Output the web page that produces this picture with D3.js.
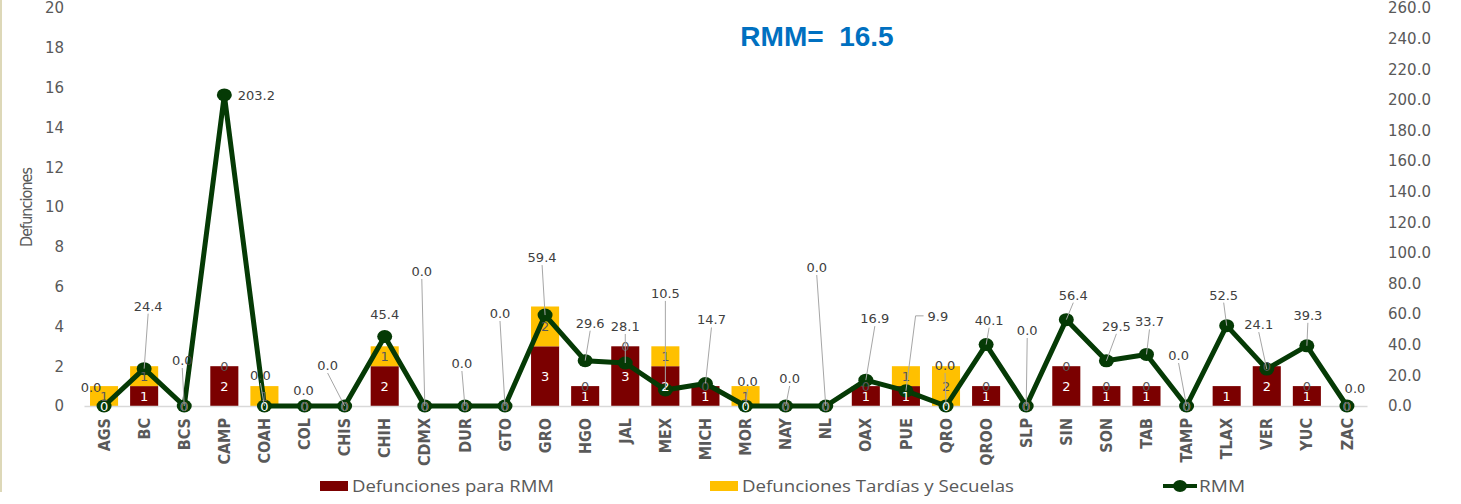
<!DOCTYPE html>
<html>
<head>
<meta charset="utf-8">
<script src="https://cdn.jsdelivr.net/npm/d3@7"></script>
<style>
  body { margin: 0; background: #fff; }
  svg { display: block; }
  text { font-family: "DejaVu Sans", Verdana, sans-serif; }
  .narrow { font-family: "Liberation Sans Narrow", "DejaVu Sans Condensed", "Liberation Sans", sans-serif; }
  .leyenda { font-family: "Open Sans", "Noto Sans", sans-serif; }
</style>
</head>
<body>
<div id="chart"></div>
<script>
var estados = ["AGS", "BC", "BCS", "CAMP", "COAH", "COL", "CHIS", "CHIH", "CDMX", "DUR", "GTO",
  "GRO", "HGO", "JAL", "MEX", "MICH", "MOR", "NAY", "NL", "OAX", "PUE", "QRO", "QROO", "SLP",
  "SIN", "SON", "TAB", "TAMP", "TLAX", "VER", "YUC", "ZAC"];

var defRMM = [0, 1, 0, 2, 0, 0, 0, 2, 0, 0, 0, 3, 1, 3, 2, 1, 0, 0, 0, 1, 1, 0, 1, 0, 2, 1, 1, 0, 1, 2, 1, 0];

var defTardias = [1, 1, 0, 0, 1, 0, 0, 1, 0, 0, 0, 2, 0, 0, 1, 0, 1, 0, 0, 0, 1, 2, 0, 0, 0, 0, 0, 0, null, 0, 0, 0];

var rmm = [0.0, 24.4, 0.0, 203.2, 0.0, 0.0, 0.0, 45.4, 0.0, 0.0, 0.0, 59.4, 29.6, 28.1, 10.5, 14.7,
  0.0, 0.0, 0.0, 16.9, 9.9, 0.0, 40.1, 0.0, 56.4, 29.5, 33.7, 0.0, 52.5, 24.1, 39.3, 0.0];

var rmmNacional = 16.5;

var leftTicks = d3.range(0, 21, 2);
var rightTicks = d3.range(0, 261, 20);

// label offsets for the RMM labels (dx, dy from the point), as placed in the original
var rmmLabelOffset = [[-13, -14], [4, -58], [-2, -41], [32, 5], [-4, -26], [-1, -11], [-17, -36], [0, -18],
  [-3, -130], [-3, -38], [-5, -88], [-3, -53], [5, -33], [0, -32], [0, -92], [6, -59], [2, -20], [4, -23],
  [-9, -134], [9, -57], [32, -70], [-1, -36], [3, -20], [1, -71], [7, -20], [10, -30], [3, -28], [-8, -46],
  [-3, -26], [-8, -40], [1, -26], [8, -13]];

var width = 1461, height = 504;
var colRojo = "#7b0000", colAmarillo = "#ffc000", colVerde = "#053a05", colTexto = "#595959";

var svg = d3.select("#chart").append("svg")
  .attr("width", width)
  .attr("height", height);

// left frame line
svg.append("line")
  .attr("x1", 1).attr("x2", 1).attr("y1", 0).attr("y2", 492)
  .attr("stroke", "#ddd8b8").attr("stroke-width", 2);

var x = d3.scaleBand().domain(estados).range([84, 1367]).paddingInner(0.3).paddingOuter(0.15);
var y = d3.scaleLinear().domain([0, 20]).range([406, 8]);
var y2 = d3.scaleLinear().domain([0, 260]).range([406, 8]);

var rows = estados.map(function(e, i) {
  return {estado: e, rmm: defRMM[i], tard: defTardias[i] == null ? 0 : defTardias[i], tardRaw: defTardias[i]};
});
var series = d3.stack().keys(["rmm", "tard"])(rows);

// axes
var gl = svg.append("g").attr("transform", "translate(72,0)")
  .call(d3.axisLeft(y).tickValues(leftTicks).tickSize(0).tickPadding(8));
gl.select(".domain").remove();
gl.selectAll("text").attr("fill", colTexto).style("font-size", "15px").style("font-family", "DejaVu Sans, Verdana, sans-serif");

var gr = svg.append("g").attr("transform", "translate(1378,0)")
  .call(d3.axisRight(y2).tickValues(rightTicks).tickSize(0).tickPadding(10).tickFormat(d3.format(".1f")));
gr.select(".domain").remove();
gr.selectAll("text").attr("fill", colTexto).style("font-size", "15px").style("font-family", "DejaVu Sans, Verdana, sans-serif");

svg.append("text")
  .attr("class", "narrow")
  .attr("transform", "translate(32,207) rotate(-90)")
  .attr("text-anchor", "middle")
  .attr("fill", colTexto)
  .style("font-size", "16px")
  .attr("textLength", 80)
  .text("Defunciones");

// bars
var colores = [colRojo, colAmarillo];
svg.append("g").selectAll("g")
  .data(series)
  .enter().append("g")
  .attr("fill", function(d, i) { return colores[i]; })
  .selectAll("rect")
  .data(function(d) { return d; })
  .enter().append("rect")
  .attr("x", function(d) { return x(d.data.estado); })
  .attr("width", x.bandwidth())
  .attr("y", function(d) { return y(d[1]); })
  .attr("height", function(d) { return y(d[0]) - y(d[1]); });

// x axis
var gx = svg.append("g").attr("transform", "translate(0,406)")
  .call(d3.axisBottom(x).tickSize(0).tickPadding(0));
gx.select(".domain").attr("stroke", "#d9d9d9").attr("stroke-width", 1.5);
gx.selectAll("text")
  .attr("class", "narrow")
  .attr("fill", colTexto)
  .style("font-size", "16px")
  .style("font-weight", "bold")
  .attr("transform", "rotate(-90)")
  .attr("text-anchor", "end")
  .attr("dx", "-12px")
  .attr("dy", "0.35em")
  .attr("x", null)
  .attr("y", 0);

// RMM line
var cx = function(i) { return x(estados[i]) + x.bandwidth() / 2; };
var linea = d3.line()
  .x(function(d, i) { return cx(i); })
  .y(function(d) { return y2(d); });

svg.append("path")
  .datum(rmm)
  .attr("d", linea)
  .attr("fill", "none")
  .attr("stroke", colVerde)
  .attr("stroke-width", 5)
  .attr("stroke-linejoin", "round");

svg.append("g").selectAll("ellipse")
  .data(rmm)
  .enter().append("ellipse")
  .attr("cx", function(d, i) { return cx(i); })
  .attr("cy", function(d) { return y2(d); })
  .attr("rx", 7.5)
  .attr("ry", 6.5)
  .attr("fill", colVerde);

// bar value labels
var gLab = svg.append("g").style("font-size", "13px").attr("text-anchor", "middle");
gLab.selectAll("text.rojo")
  .data(series[0])
  .enter().append("text")
  .attr("class", "rojo")
  .attr("x", function(d) { return x(d.data.estado) + x.bandwidth() / 2; })
  .attr("y", function(d) { return (y(d[0]) + y(d[1])) / 2; })
  .attr("dy", "0.36em")
  .attr("fill", "#fff")
  .text(function(d) { return d.data.rmm; });

gLab.selectAll("text.amar")
  .data(series[1].filter(function(d) { return d.data.tardRaw != null; }))
  .enter().append("text")
  .attr("class", "amar")
  .attr("x", function(d) { return x(d.data.estado) + x.bandwidth() / 2; })
  .attr("y", function(d) { return (y(d[0]) + y(d[1])) / 2; })
  .attr("dy", "0.36em")
  .attr("fill", "#595959")
  .text(function(d) { return d.data.tard; });

// RMM labels with leader lines
var gR = svg.append("g");
rmm.forEach(function(v, i) {
  var px = cx(i), py = y2(v);
  var o = rmmLabelOffset[i];
  var lx = px + o[0], ly = py + o[1];
  var t = gR.append("text")
    .attr("x", lx).attr("y", ly)
    .attr("text-anchor", "middle")
    .attr("fill", "#404040")
    .style("font-size", "13px")
    .text(d3.format(".1f")(v));
  if (Math.abs(o[1]) >= 20) {
    if (Math.abs(o[0]) > 20) {
      var w = t.node().getComputedTextLength();
      var left = lx - w / 2 - 4;
      gR.append("polyline")
        .attr("points", [[px, py], [left - 8, ly - 5], [left, ly - 5]].map(function(p) { return p.join(","); }).join(" "))
        .attr("fill", "none").attr("stroke", "#a6a6a6").attr("stroke-width", 1);
    } else {
      gR.append("line")
        .attr("x1", lx).attr("y1", ly + 3)
        .attr("x2", px).attr("y2", py)
        .attr("stroke", "#a6a6a6").attr("stroke-width", 1);
    }
  }
});

// title
svg.append("text")
  .attr("x", 817).attr("y", 46)
  .attr("text-anchor", "middle")
  .attr("fill", "#0070c0")
  .style("font-family", "Liberation Sans, Arial, sans-serif")
  .style("font-size", "28px")
  .style("font-weight", "bold")
  .style("white-space", "pre")
  .text("RMM=  " + rmmNacional.toFixed(1));

// legend
var leg = svg.append("g");
var legItems = [
  {label: "Defunciones para RMM", color: colRojo, x: 320, len: 202},
  {label: "Defunciones Tardías y Secuelas", color: colAmarillo, x: 710, len: 272}
];
legItems.forEach(function(it) {
  leg.append("rect").attr("x", it.x).attr("y", 481).attr("width", 28).attr("height", 10).attr("fill", it.color);
  leg.append("text").attr("class", "leyenda").attr("x", it.x + 32).attr("y", 492)
    .attr("fill", colTexto).attr("textLength", it.len).attr("lengthAdjust", "spacingAndGlyphs")
    .style("font-size", "16px")
    .text(it.label);
});
leg.append("line").attr("x1", 1163).attr("x2", 1197).attr("y1", 486).attr("y2", 486)
  .attr("stroke", colVerde).attr("stroke-width", 4);
leg.append("ellipse").attr("cx", 1180).attr("cy", 486).attr("rx", 7).attr("ry", 6).attr("fill", colVerde);
leg.append("text").attr("class", "leyenda").attr("x", 1199).attr("y", 492)
  .attr("fill", colTexto).attr("textLength", 46).attr("lengthAdjust", "spacingAndGlyphs")
  .style("font-size", "16px")
  .text("RMM");
</script>
</body>
</html>
